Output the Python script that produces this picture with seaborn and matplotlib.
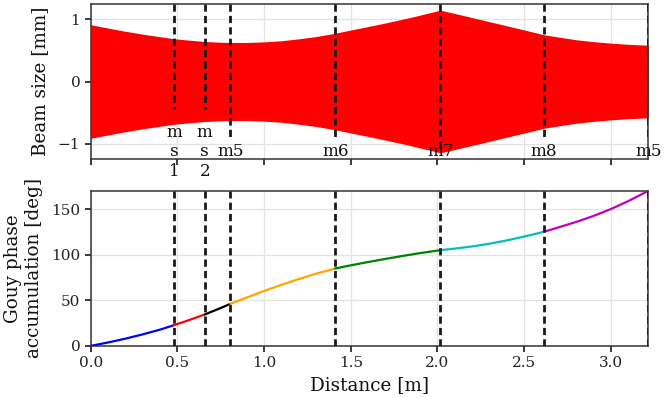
#!/usr/bin/env python3
"""
Beam size and Gouy phase accumulation along the cavity path.
"""

import numpy as np
import pandas as pd
import matplotlib
matplotlib.use("Agg")
import matplotlib.pyplot as plt
import seaborn as sns

# Components along the beam path: name and position [m]
comp_names = ["m\ns\n1", "m\ns\n2", "m5", "m6", "m7", "m8", "m5"]
comp_pos = [0.481, 0.658, 0.806, 1.411, 2.017, 2.616, 3.217]
# bottom end of the dashed markers in the beam-size panel [mm]
comp_line_bottom = [-0.445, -0.445, -0.95, -0.95, -1.10, -0.95, -0.95]

# Beam radius [mm]
beam_x = [0.0, 0.1, 0.2, 0.3, 0.4, 0.481, 0.55, 0.658, 0.75, 0.806,
          0.9, 1.0, 1.1, 1.2, 1.3, 1.411, 1.5, 1.6, 1.7, 1.8, 1.9, 2.017,
          2.1, 2.2, 2.3, 2.4, 2.5, 2.616, 2.7, 2.8, 2.9, 3.0, 3.1, 3.217]
beam_w = [0.915, 0.862, 0.810, 0.763, 0.722, 0.690, 0.671, 0.645, 0.633, 0.630,
          0.629, 0.639, 0.657, 0.688, 0.725, 0.778, 0.830, 0.886, 0.944, 1.005, 1.070, 1.150,
          1.097, 1.031, 0.965, 0.899, 0.832, 0.753, 0.716, 0.673, 0.643, 0.619, 0.600, 0.585]

# Gouy phase accumulation [deg], one list per segment between components
gouy_segments = [
    ([0.0, 0.1, 0.2, 0.3, 0.4, 0.481], [0.0, 3.7, 7.9, 12.6, 17.8, 22.7]),
    ([0.481, 0.55, 0.658], [22.7, 27.1, 34.4]),
    ([0.658, 0.75, 0.806], [34.4, 41.5, 46.1]),
    ([0.806, 0.9, 1.0, 1.1, 1.2, 1.3, 1.411], [46.1, 52.9, 60.2, 66.9, 73.2, 79.1, 84.8]),
    ([1.411, 1.5, 1.6, 1.7, 1.8, 1.9, 2.017], [84.8, 88.3, 91.9, 95.3, 98.6, 101.7, 104.9]),
    ([2.017, 2.1, 2.2, 2.3, 2.4, 2.5, 2.616], [104.9, 106.6, 109.0, 112.0, 115.6, 119.8, 125.1]),
    ([2.616, 2.7, 2.8, 2.9, 3.0, 3.1, 3.217], [125.1, 130.0, 135.8, 142.4, 149.9, 158.6, 169.9]),
]
segment_colors = ["#0000ff", "#ff0000", "#000000", "#ffa500", "#008000", "#00bfbf", "#bf00bf"]

sns.set_theme(style="whitegrid")
plt.rcParams.update({
    "font.family": ["DejaVu Serif"],
    "axes.edgecolor": "#333333",
    "axes.linewidth": 1.1,
    "grid.color": "#e3e3e3",
    "grid.linewidth": 0.9,
    "xtick.bottom": True,
    "ytick.left": True,
    "xtick.color": "#222222",
    "ytick.color": "#222222",
    "xtick.major.size": 4,
    "ytick.major.size": 4,
    "xtick.labelsize": 11,
    "ytick.labelsize": 11,
    "axes.labelsize": 13.2,
    "text.color": "#111111",
    "axes.labelcolor": "#111111",
})

DASH = (0, (2.6, 1.5))

fig, (ax1, ax2) = plt.subplots(2, 1, figsize=(6.67, 3.98), dpi=100, sharex=True)
fig.subplots_adjust(left=0.136, right=0.972, bottom=0.131, top=0.990, hspace=0.205)

# --- beam size ---
bx = np.array(beam_x)
bw = np.array(beam_w)
ax1.fill_between(bx, -bw, bw, color="red", linewidth=0, zorder=2)
for name, pos, yb in zip(comp_names, comp_pos, comp_line_bottom):
    ax1.plot([pos, pos], [1.25, yb], color="k", ls=DASH, lw=2, zorder=3)
    ax1.text(pos, -1.134, name, ha="center", va="center", fontsize=12.2,
             zorder=4, clip_on=False)
ax1.set_ylim(-1.25, 1.25)
ax1.set_yticks([-1, 0, 1])
ax1.set_ylabel("Beam size [mm]", labelpad=6)
ax1.tick_params(axis="x", labelbottom=False)

# --- gouy phase ---
rows = []
for i, (xs, ys) in enumerate(gouy_segments):
    for x, y in zip(xs, ys):
        rows.append({"seg": i, "dist": x, "gouy": y})
df = pd.DataFrame(rows)
sns.lineplot(data=df, x="dist", y="gouy", hue="seg", palette=segment_colors,
             legend=False, lw=1.6, ax=ax2, zorder=3, sort=False)
for pos in comp_pos:
    ax2.axvline(pos, color="k", ls=DASH, lw=2, zorder=4)
ax2.set_ylim(0, 170)
ax2.set_xlim(0, 3.217)
ax2.set_yticks([0, 50, 100, 150])
ax2.set_xlabel("Distance [m]")
ax2.set_ylabel("Gouy phase\naccumulation [deg]", labelpad=6)

fig.savefig("out.png", dpi=100)
plt.close(fig)
